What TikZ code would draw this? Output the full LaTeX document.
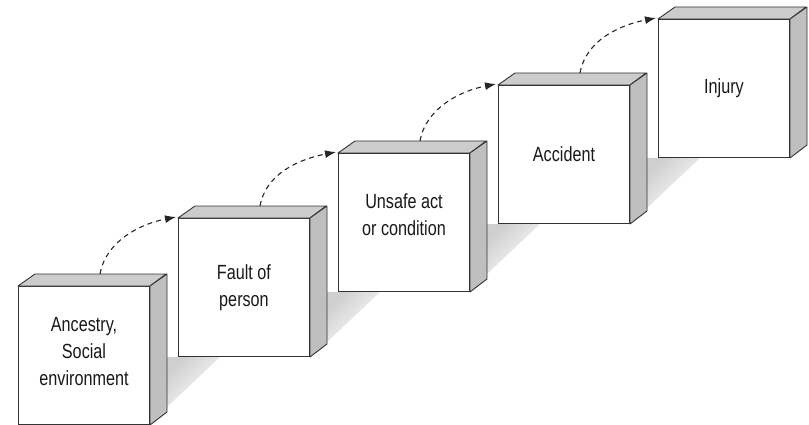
\documentclass[tikz,border=0pt]{standalone}
\usepackage{fontspec}
\setmainfont{Liberation Sans}[FakeStretch=0.79]
\usetikzlibrary{calc,arrows.meta,backgrounds}
\begin{document}
\begin{tikzpicture}[x=1pt,y=-1pt,
  face/.style={draw=black!80, line width=1pt, fill=white, minimum width=131pt,
    minimum height=138pt, inner sep=0pt, anchor=north west},
  topface/.style={draw=black!80, line width=0.9pt, fill=gray!40, line join=round},
  sideface/.style={draw=black!80, line width=0.9pt, fill=gray!50, line join=round},
  caption/.style={font=\fontsize{20.5}{27}\selectfont, align=center, text=black!90},
  flow/.style={dash pattern=on 5pt off 4pt, line width=1.1pt, black!85,
    -{Latex[length=11pt,width=8pt]}},
  haze/.style={top color=gray!38, bottom color=white, shading angle=45}
]
\useasboundingbox (0,0) rectangle (809,425);

% the five blocks: front face, top face and right side
\foreach \n/\x/\y in {1/18/286, 2/178/218, 3/338/153, 4/498/85, 5/658/19} {
  \node[face] (b\n) at (\x,\y) {};
  \draw[topface] (b\n.north west) -- ++(17,-12) -- ++(131,0) -- (b\n.north east) -- cycle;
  \draw[sideface] (b\n.north east) -- ++(17,-12) -- ++(0,138) -- (b\n.south east) -- cycle;
}

% soft shadows between neighbouring blocks
\begin{pgfonlayer}{background}
\foreach \i/\j in {1/2, 2/3, 3/4, 4/5} {
  \coordinate (p\i) at ($(b\i.south east)+(17,0)$);
  \shade[haze] (p\i |- b\j.south) -- ++(53,0) -- ++(-53,50) -- cycle;
}
\end{pgfonlayer}

% captions
\node[caption] (t1) at ($(b1.center)+(0,-4)$) {Ancestry,\\Social\\environment};
\node[caption] (t2) at ($(b2.center)+(0,0)$) {Fault of\\person};
\node[caption] (t3) at ($(b3.center)+(0,-8)$) {Unsafe act\\or condition};
\node[caption] (t4) at ($(b4.center)+(0,0)$) {Accident};
\node[caption] (t5) at ($(b5.center)+(0,0)$) {Injury};

% dashed links from each top face to the next block
\foreach \i/\j in {1/2, 2/3, 3/4, 4/5} {
  \coordinate (s\i) at ($(b\i.north west)+(82,-12)$);
  \coordinate (e\i) at ($(b\j.north west)+(-2,-1)$);
  \draw[flow] (s\i) .. controls ($(s\i)+(6,-33)$) and ($(b\j.north west)+(-38,6)$) .. (e\i);
}
\end{tikzpicture}
\end{document}
